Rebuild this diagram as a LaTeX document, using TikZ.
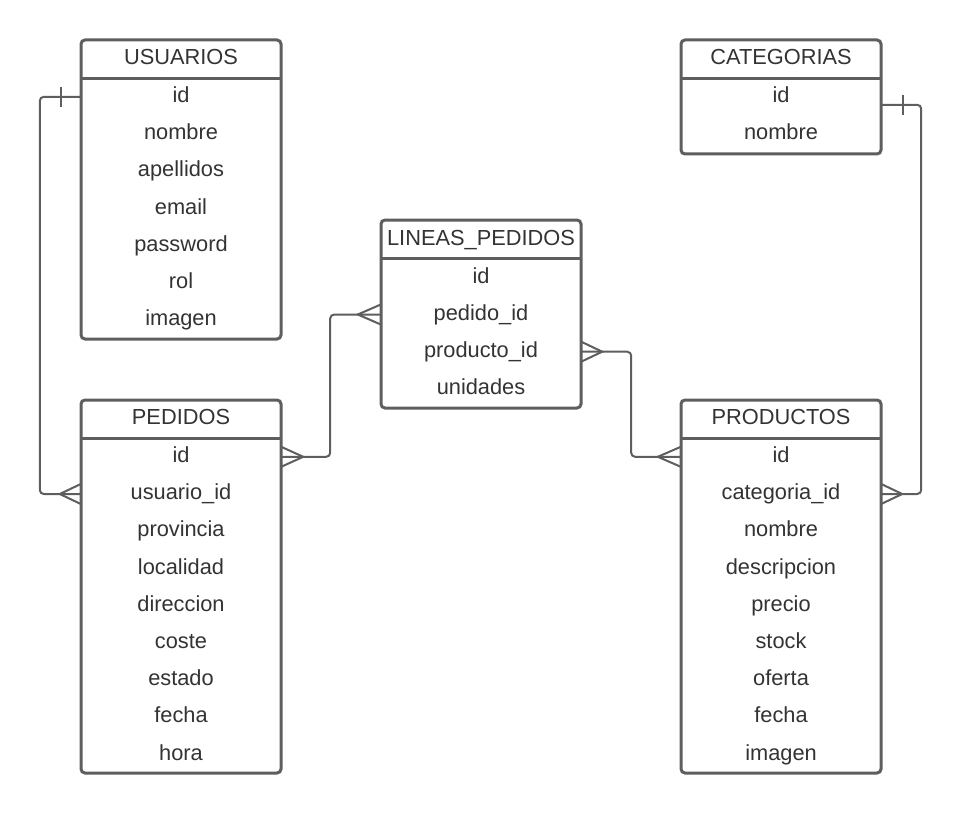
\documentclass[tikz,border=0pt]{standalone}
\usepackage{fontspec}
\setmainfont{Liberation Sans}
\usepackage{xcolor}
\usetikzlibrary{positioning}
\definecolor{edgegray}{HTML}{5E5E5E}
\definecolor{txtgray}{HTML}{333333}

\begin{document}
\begin{tikzpicture}[x=1pt,y=-1pt,
  tbox/.style={draw=edgegray,line width=3pt,rounded corners=4pt,minimum width=200pt,inner sep=0pt},
  thead/.style={minimum width=200pt,minimum height=38pt,inner sep=0pt,text=txtgray,text height=15.5pt,text depth=4pt,font=\fontsize{21.8}{24}\selectfont},
  row/.style={minimum width=200pt,minimum height=36.8pt,inner sep=0pt,text=txtgray,text height=15.5pt,text depth=4pt,font=\fontsize{21.8}{24}\selectfont},
  tline/.style={draw=edgegray,line width=2.8pt},
  conn/.style={draw=edgegray,line width=2pt,rounded corners=4pt},
  foot/.style={draw=edgegray,line width=2pt}]
\useasboundingbox (0,0) rectangle (963,813);

% USUARIOS
\node[tbox,minimum height=299pt] (usr) at (181,189.5) {};
\node[thead] (usr-h) at (181,59) {USUARIOS};
\draw[tline] (usr-h.south west) -- (usr-h.south east);
\node[row,below=0pt of usr-h] (usr-id) {id};
\node[row,below=0pt of usr-id] (usr-nom) {nombre};
\node[row,below=0pt of usr-nom] (usr-ape) {apellidos};
\node[row,below=0pt of usr-ape] (usr-ema) {email};
\node[row,below=0pt of usr-ema] (usr-pas) {password};
\node[row,below=0pt of usr-pas] (usr-rol) {rol};
\node[row,below=0pt of usr-rol] (usr-img) {imagen};

% CATEGORIAS
\node[tbox,minimum height=114pt] (cat) at (781,97) {};
\node[thead] (cat-h) at (781,59) {CATEGORIAS};
\draw[tline] (cat-h.south west) -- (cat-h.south east);
\node[row,below=0pt of cat-h] (cat-id) {id};
\node[row,below=0pt of cat-id] (cat-nom) {nombre};

% LINEAS_PEDIDOS
\node[tbox,minimum height=188pt] (lin) at (481,314) {};
\node[thead] (lin-h) at (481,239.5) {LINEAS\_PEDIDOS};
\draw[tline] (lin-h.south west) -- (lin-h.south east);
\node[row,below=0pt of lin-h] (lin-id) {id};
\node[row,below=0pt of lin-id] (lin-ped) {pedido\_id};
\node[row,below=0pt of lin-ped] (lin-prd) {producto\_id};
\node[row,below=0pt of lin-prd] (lin-uni) {unidades};

% PEDIDOS
\node[tbox,minimum height=373pt] (ped) at (181,586.5) {};
\node[thead] (ped-h) at (181,419) {PEDIDOS};
\draw[tline] (ped-h.south west) -- (ped-h.south east);
\node[row,below=0pt of ped-h] (ped-id) {id};
\node[row,below=0pt of ped-id] (ped-usr) {usuario\_id};
\node[row,below=0pt of ped-usr] (ped-pro) {provincia};
\node[row,below=0pt of ped-pro] (ped-loc) {localidad};
\node[row,below=0pt of ped-loc] (ped-dir) {direccion};
\node[row,below=0pt of ped-dir] (ped-cos) {coste};
\node[row,below=0pt of ped-cos] (ped-est) {estado};
\node[row,below=0pt of ped-est] (ped-fec) {fecha};
\node[row,below=0pt of ped-fec] (ped-hor) {hora};

% PRODUCTOS
\node[tbox,minimum height=373pt] (prd) at (781,586.5) {};
\node[thead] (prd-h) at (781,419) {PRODUCTOS};
\draw[tline] (prd-h.south west) -- (prd-h.south east);
\node[row,below=0pt of prd-h] (prd-id) {id};
\node[row,below=0pt of prd-id] (prd-cat) {categoria\_id};
\node[row,below=0pt of prd-cat] (prd-nom) {nombre};
\node[row,below=0pt of prd-nom] (prd-des) {descripcion};
\node[row,below=0pt of prd-des] (prd-pre) {precio};
\node[row,below=0pt of prd-pre] (prd-sto) {stock};
\node[row,below=0pt of prd-sto] (prd-ofe) {oferta};
\node[row,below=0pt of prd-ofe] (prd-fec) {fecha};
\node[row,below=0pt of prd-fec] (prd-img) {imagen};

% usuarios -> pedidos
\draw[conn] (usr-id.west) -- ++(-41,0) |- (ped-usr.west);
\draw[foot] ([xshift=-20pt,yshift=10pt]usr-id.west) -- ([xshift=-20pt,yshift=-10pt]usr-id.west);
\draw[foot] ([yshift=10pt]ped-usr.west) -- ([xshift=-21pt]ped-usr.west) -- ([yshift=-10pt]ped-usr.west);

% pedidos -> lineas_pedidos
\draw[conn] (ped-id.east) -- ++(49,0) |- (lin-ped.west);
\draw[foot] ([yshift=10pt]ped-id.east) -- ([xshift=22pt]ped-id.east) -- ([yshift=-10pt]ped-id.east);
\draw[foot] ([yshift=10pt]lin-ped.west) -- ([xshift=-23pt]lin-ped.west) -- ([yshift=-10pt]lin-ped.west);

% lineas_pedidos -> productos
\draw[conn] (lin-prd.east) -- ++(50,0) |- (prd-id.west);
\draw[foot] ([yshift=10pt]lin-prd.east) -- ([xshift=21pt]lin-prd.east) -- ([yshift=-10pt]lin-prd.east);
\draw[foot] ([yshift=10pt]prd-id.west) -- ([xshift=-23pt]prd-id.west) -- ([yshift=-10pt]prd-id.west);

% categorias -> productos
\draw[conn] ([yshift=-8pt]cat-id.east) -- ++(40,0) |- (prd-cat.east);
\draw[foot] ([xshift=22pt,yshift=2pt]cat-id.east) -- ([xshift=22pt,yshift=-18pt]cat-id.east);
\draw[foot] ([yshift=10pt]prd-cat.east) -- ([xshift=21pt]prd-cat.east) -- ([yshift=-10pt]prd-cat.east);
\end{tikzpicture}
\end{document}
